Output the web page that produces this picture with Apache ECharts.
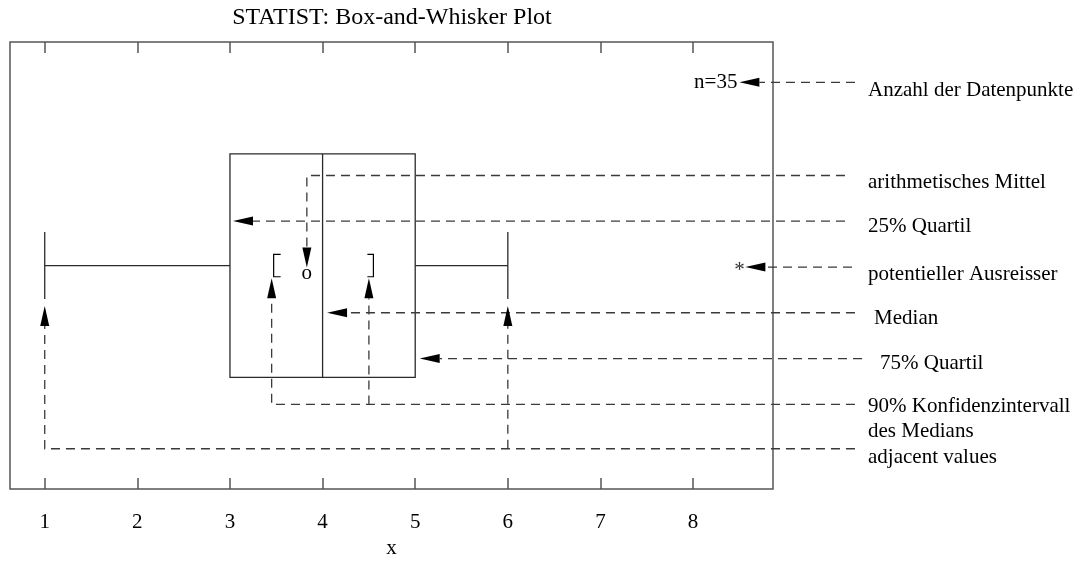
<!DOCTYPE html>
<html><head><meta charset="utf-8">
<script src="https://cdn.jsdelivr.net/npm/echarts@6/dist/echarts.min.js"></script>
<style>html,body{margin:0;padding:0;background:#fff}#c{width:1079px;height:564px}</style>
</head><body><div id="c"></div>
<script>
// ---------------- data ----------------
const titleText = 'STATIST: Box-and-Whisker Plot';
const xAxisName = 'x';
const xTicks = [1, 2, 3, 4, 5, 6, 7, 8];
// lower adjacent value, 25% quartile, median, 75% quartile, upper adjacent value
const boxStats = [1, 3, 4, 5, 6];
const meanValue = 3.83;
const medianCI = [3.45, 4.5];
const outliers = [8.5];
const nPoints = 35;
const annotationLabels = [
  'Anzahl der Datenpunkte',
  'arithmetisches Mittel',
  '25% Quartil',
  'potentieller Ausreisser',
  'Median',
  '75% Quartil',
  '90% Konfidenzintervall\ndes Medians',
  'adjacent values'
];

// ---------------- layout / style ----------------
const FONT_FAMILY = '"Liberation Serif", "Times New Roman", serif';
const FONT_SIZE = 21;
const X_MIN = 0.625, X_MAX = 8.863;
const Y_MIN = 0, Y_MAX = 10;
const BOX_Y = 5, BOX_HALF = 2.5, CAP_HALF = 0.75, CI_HALF = 0.25;
const rowsY = [9.098, 7.014, 5.995, 4.967, 3.944, 2.920, 1.893, 0.902];
const rowsEnd = [9.748, 9.64, 9.64, 9.716, 9.748, 9.824, 9.748, 9.748];
const rowsLabelX = [9.889, 9.889, 9.889, 9.889, 9.954, 10.019, 9.889, 9.889];
const rowsLabelDy = [8, 7, 5.5, 7.5, 6, 5, 2.5, 9];
const FRAME_COLOR = '#555';
const BOX_COLOR = '#2a2a2a';
const DASH_COLOR = '#3a3a3a';

function font(size) { return size + 'px ' + FONT_FAMILY; }
function off(p, dx, dy) { return [p[0] + dx, p[1] + dy]; }

function arrowParts(points, len, halfW) {
  const n = points.length;
  const T = points[n - 1], P = points[n - 2];
  let dx = T[0] - P[0], dy = T[1] - P[1];
  const d = Math.hypot(dx, dy) || 1; dx /= d; dy /= d;
  const B = [T[0] - dx * len, T[1] - dy * len];
  const nx = -dy, ny = dx;
  return {
    line: points.slice(0, n - 1).concat([B]),
    tri: [T, [B[0] + nx * halfW, B[1] + ny * halfW], [B[0] - nx * halfW, B[1] - ny * halfW]]
  };
}

function annotationBranches(i, c) {
  const y = rowsY[i];
  const start = c([rowsEnd[i], y]);
  const lo = boxStats[0], q1 = boxStats[1], med = boxStats[2], q3 = boxStats[3], hi = boxStats[4];
  switch (i) {
    case 0: return [[start, c([outliers[0], y])]];
    case 1: return [[start, c([meanValue, y]), off(c([meanValue, BOX_Y]), 0, 2)]];
    case 2: return [[start, off(c([q1, y]), 3, 0)]];
    case 3: return [[start, off(c([outliers[0], y]), 6, 0)]];
    case 4: return [[start, off(c([med, y]), 4.5, 0)]];
    case 5: return [[start, off(c([q3, y]), 4.5, 0)]];
    case 6: return [
      [start, c([medianCI[0], y]), off(c([medianCI[0], BOX_Y - CI_HALF]), 0, 1.5)],
      [c([medianCI[1], y]), off(c([medianCI[1], BOX_Y - CI_HALF]), 0, 1.5)]
    ];
    case 7: return [
      [start, c([lo, y]), off(c([lo, BOX_Y - CAP_HALF]), 0, 7)],
      [c([hi, y]), off(c([hi, BOX_Y - CAP_HALF]), 0, 7)]
    ];
  }
  return [];
}

const chart = echarts.init(document.getElementById('c'), null, { renderer: 'canvas' });

const option = {
  animation: false,
  backgroundColor: '#fff',
  title: {
    text: titleText,
    left: 392,
    textAlign: 'center',
    top: 6,
    padding: 0,
    textStyle: { fontFamily: FONT_FAMILY, fontSize: 24, fontWeight: 'normal', color: '#000' }
  },
  grid: {
    left: 10, top: 42, width: 763, height: 455,
    show: true, borderColor: FRAME_COLOR, borderWidth: 1.5, backgroundColor: 'transparent'
  },
  xAxis: [
    {
      type: 'value', position: 'bottom', min: X_MIN, max: X_MAX,
      name: xAxisName, nameLocation: 'middle', nameGap: 46,
      nameTextStyle: { fontFamily: FONT_FAMILY, fontSize: FONT_SIZE, color: '#000' },
      axisLine: { show: false },
      axisTick: { show: true, inside: true, length: 11, customValues: xTicks,
        lineStyle: { color: FRAME_COLOR, width: 1.5 } },
      axisLabel: { show: true, customValues: xTicks, margin: 23,
        fontFamily: FONT_FAMILY, fontSize: FONT_SIZE, color: '#000' },
      splitLine: { show: false }
    },
    {
      type: 'value', position: 'top', min: X_MIN, max: X_MAX,
      axisLine: { show: false },
      axisTick: { show: true, inside: true, length: 11, customValues: xTicks,
        lineStyle: { color: FRAME_COLOR, width: 1.5 } },
      axisLabel: { show: false },
      splitLine: { show: false }
    }
  ],
  yAxis: { type: 'value', min: Y_MIN, max: Y_MAX, show: false },
  series: [
    {
      // box and whiskers
      type: 'custom', silent: true, data: [boxStats],
      renderItem: function (params, api) {
        const c = api.coord;
        const lo = api.value(0), q1 = api.value(1), med = api.value(2), q3 = api.value(3), hi = api.value(4);
        const tl = c([q1, BOX_Y + BOX_HALF]), br = c([q3, BOX_Y - BOX_HALF]);
        const st = { stroke: BOX_COLOR, lineWidth: 1.3, fill: null };
        const line = (a, b) => ({ type: 'line', shape: { x1: a[0], y1: a[1], x2: b[0], y2: b[1] }, style: st });
        return {
          type: 'group', children: [
            { type: 'rect', shape: { x: tl[0], y: tl[1], width: br[0] - tl[0], height: br[1] - tl[1] }, style: st },
            line(c([med, BOX_Y + BOX_HALF]), c([med, BOX_Y - BOX_HALF])),
            line(c([lo, BOX_Y]), c([q1, BOX_Y])),
            line(c([q3, BOX_Y]), c([hi, BOX_Y])),
            line(c([lo, BOX_Y + CAP_HALF]), c([lo, BOX_Y - CAP_HALF])),
            line(c([hi, BOX_Y + CAP_HALF]), c([hi, BOX_Y - CAP_HALF]))
          ]
        };
      }
    },
    {
      // mean marker
      type: 'custom', silent: true, data: [[meanValue, BOX_Y]],
      renderItem: function (params, api) {
        const p = api.coord([api.value(0), api.value(1)]);
        return { type: 'text', style: { text: 'o', x: p[0], y: p[1] + 8, fill: '#000',
          font: font(FONT_SIZE), align: 'center', verticalAlign: 'middle' } };
      }
    },
    {
      // confidence interval brackets of the median
      type: 'custom', silent: true, data: [medianCI],
      renderItem: function (params, api) {
        const c = api.coord;
        const a = c([api.value(0), BOX_Y + CI_HALF]), a2 = c([api.value(0), BOX_Y - CI_HALF]);
        const b = c([api.value(1), BOX_Y + CI_HALF]), b2 = c([api.value(1), BOX_Y - CI_HALF]);
        const st = { stroke: '#000', lineWidth: 1.2, fill: null };
        const lx = a[0] + 2, rx = b[0] + 4.5;
        return { type: 'group', children: [
          { type: 'polyline', shape: { points: [[lx + 7, a[1]], [lx, a[1]], [lx, a2[1]], [lx + 7, a2[1]]] }, style: st },
          { type: 'polyline', shape: { points: [[rx - 6, b[1]], [rx, b[1]], [rx, b2[1]], [rx - 6, b2[1]]] }, style: st }
        ] };
      }
    },
    {
      // outliers
      type: 'custom', silent: true, data: outliers.map(v => [v, BOX_Y]),
      renderItem: function (params, api) {
        const p = api.coord([api.value(0), api.value(1)]);
        return { type: 'text', style: { text: '*', x: p[0], y: p[1] + 5, fill: '#333',
          font: font(FONT_SIZE), align: 'center', verticalAlign: 'middle' } };
      }
    },
    {
      // number of data points
      type: 'custom', silent: true, data: [[outliers[0], rowsY[0], nPoints]],
      renderItem: function (params, api) {
        const p = api.coord([api.value(0), api.value(1)]);
        return { type: 'text', style: { text: 'n=' + api.value(2), x: p[0] - 2, y: p[1], fill: '#000',
          font: font(FONT_SIZE), align: 'right', verticalAlign: 'middle' } };
      }
    },
    {
      // explanatory pointers
      type: 'custom', silent: true, data: annotationLabels.map((t, i) => [i, rowsY[i]]),
      renderItem: function (params, api) {
        const i = params.dataIndex;
        const c = api.coord;
        const children = [];
        annotationBranches(i, c).forEach(function (pts) {
          const ap = arrowParts(pts, 20, 4.5);
          children.push({ type: 'polyline', shape: { points: ap.line },
            style: { stroke: DASH_COLOR, lineWidth: 1.3, lineDash: [9, 6], fill: null } });
          children.push({ type: 'polygon', shape: { points: ap.tri }, style: { fill: '#000' } });
        });
        const lp = c([rowsLabelX[i], rowsY[i]]);
        children.push({ type: 'text', style: { text: annotationLabels[i], x: lp[0], y: lp[1] + rowsLabelDy[i] - 12.5,
          fill: '#000', font: font(FONT_SIZE), lineHeight: 25, align: 'left', verticalAlign: 'top' } });
        return { type: 'group', children: children };
      }
    }
  ]
};
chart.setOption(option);
</script>
</body></html>
